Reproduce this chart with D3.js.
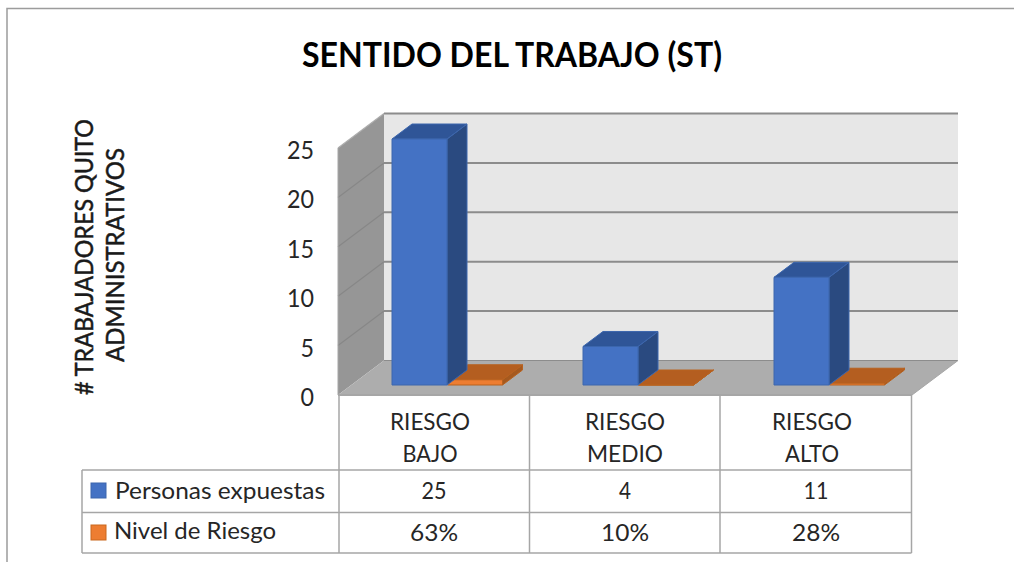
<!DOCTYPE html>
<html><head><meta charset="utf-8">
<style>html,body{margin:0;padding:0;background:#fff}svg{display:block}text{font-family:Lato,"Open Sans",sans-serif;fill:#262626}</style>
<script src="https://cdnjs.cloudflare.com/ajax/libs/d3/7.8.5/d3.min.js"></script>
</head><body><svg id="c" width="1014" height="562"></svg>
<script>
const categories=[["RIESGO","BAJO"],["RIESGO","MEDIO"],["RIESGO","ALTO"]];
const seriesNames=["Personas expuestas","Nivel de Riesgo"];
const personas=[25,4,11];
const nivel=[0.63,0.10,0.28];
const nivelLabels=["63%","10%","28%"];
const yTicks=[0,5,10,15,20,25];
const title="SENTIDO DEL TRABAJO (ST)";
const yTitle=["# TRABAJADORES QUITO","ADMINISTRATIVOS"];

const svg=d3.select("#c");
const line=(x1,y1,x2,y2,c="#a6a6a6",w=1.5)=>svg.append("line").attr("x1",x1).attr("y1",y1).attr("x2",x2).attr("y2",y2).attr("stroke",c).attr("stroke-width",w);
const poly=(pts,f,s)=>svg.append("polygon").attr("points",pts.map(p=>p.join(",")).join(" ")).attr("fill",f).attr("stroke",s||"none").attr("stroke-width",s?1:0);
const label=(x,yy,s,size,w,anchor="middle")=>svg.append("text").attr("x",x).attr("y",yy).attr("text-anchor",anchor).attr("font-size",size).attr("textLength",w).attr("lengthAdjust","spacingAndGlyphs").text(s);

// frame: top and left edges only
svg.append("path").attr("d","M7,562V8.5H1014").attr("fill","none").attr("stroke","#9c9c9c").attr("stroke-width",1.5);

// scales
const y=d3.scaleLinear().domain([0,25]).range([395,148]);
const x=d3.scaleBand().domain([0,1,2]).range([338.5,911.5]);
const DX=46,DY=-34.5;

// walls
poly([[338,y(25)],[338+DX,y(25)+DY],[338+DX,y(0)+DY],[338,y(0)]],"#969696");
poly([[338+DX,y(25)+DY],[958,y(25)+DY],[958,y(0)+DY],[338+DX,y(0)+DY]],"#e7e7e7");
poly([[338,y(0)],[338+DX,y(0)+DY],[958,y(0)+DY],[912,y(0)]],"#adadad");

// gridlines
yTicks.forEach(t=>{
  if(t>0) line(338,y(t),338+DX,y(t)+DY,t==25?"#adadad":"#878787",1.2);
  line(338+DX,y(t)+DY,958,y(t)+DY,"#8c8c8c",t==0?1:2);
});
line(338,y(25),338,y(0),"#a6a6a6",1);
line(338,y(0),912,y(0),"#a6a6a6",2);
line(912,y(0),958,y(0)+DY,"#a6a6a6",1);

// bars
const barW=55,fx=53.5,dz=10,bdx=20,bdy=-15;
function bar(x0,val,front,top,side,stroke){
  const base=y(0)-dz, h=y(0)-y(val), t=base-h+1;
  poly([[x0+barW,base],[x0+barW+bdx,base+bdy],[x0+barW+bdx,t+bdy],[x0+barW,t]],side,stroke);
  poly([[x0,t],[x0+bdx,t+bdy],[x0+barW+bdx,t+bdy],[x0+barW,t]],top,stroke);
  poly([[x0,base],[x0+barW,base],[x0+barW,t],[x0,t]],front,stroke);
}
categories.forEach((c,i)=>{
  const x0=x(i)+fx;
  bar(x0+55.5,nivel[i],"#ed7d31","#b45e20","#a5591f","#b8621f");
  bar(x0,personas[i],"#4472c4","#2f5597","#2a4a80","#3c66ad");
});

// y labels
svg.selectAll(".yt").data(yTicks).enter().append("text").attr("class","yt")
  .attr("x",314).attr("y",d=>y(d)+11).attr("text-anchor","end").attr("font-size",25).attr("textLength",d=>d<10?13.5:27).attr("lengthAdjust","spacingAndGlyphs").text(d=>d);

// table
const cols=[339,529.5,720,911.5];
const rows=[470,512.5,553];
cols.forEach(cx=>line(cx,395,cx,553));
rows.forEach(r=>line(82,r,911.5,r));
line(82,470,82,553);

const catShift=[-4,0,-4];
const catW=[[80,55],[80,76],[80,54]];
categories.forEach((c,i)=>{
  const cx=x(i)+x.bandwidth()/2;
  c.forEach((s,j)=>label(cx+catShift[i],430+j*32,s,24,catW[i][j]));
  label(cx,499,personas[i],24,personas[i]<10?12:25);
  label(cx,541,nivelLabels[i],24,48);
});
// legend cells
[["#4472c4","#3c66ad",483,499,210],["#ed7d31","#c9691f",525,539,162]].forEach((d,i)=>{
  svg.append("rect").attr("x",91).attr("y",d[2]).attr("width",15).attr("height",15).attr("fill",d[0]).attr("stroke",d[1]);
  label(i?114:115,d[3],seriesNames[i],24,d[4],"start");
});

// titles
label(512,67,title,35,420).attr("font-weight",700).style("fill","#000");
[[93,257,276],[124,255,214]].forEach((p,i)=>{
  svg.append("text").attr("transform",`translate(${p[0]},${p[1]}) rotate(-90)`).attr("text-anchor","middle").attr("font-size",25).attr("font-weight",400).attr("stroke","#1a1a1a").attr("stroke-width",0.5).attr("textLength",p[2]).attr("lengthAdjust","spacingAndGlyphs").style("fill","#1a1a1a").text(yTitle[i]);
});
</script></body></html>
